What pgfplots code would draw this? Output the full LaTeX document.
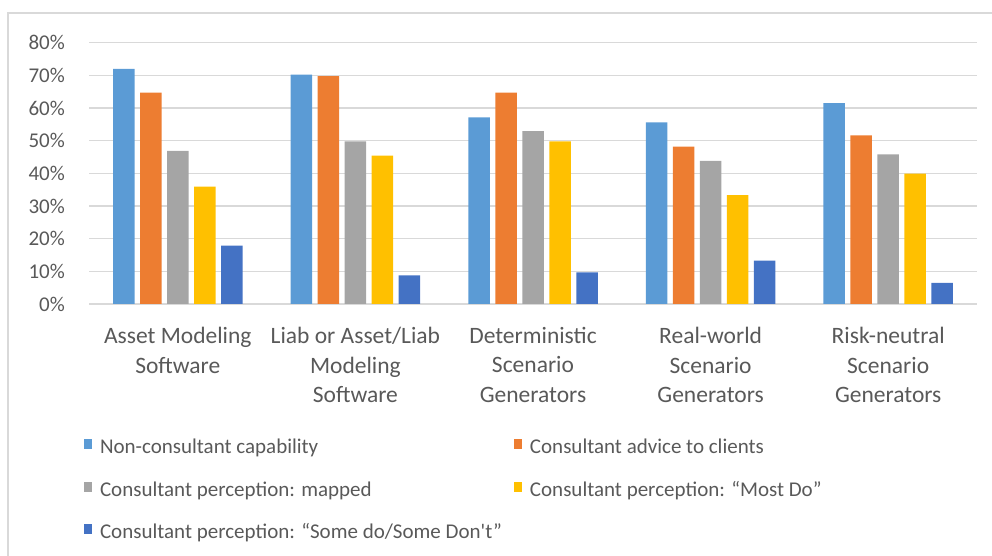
\documentclass[border=0pt]{standalone}
\usepackage{pgfplots}
\pgfplotsset{compat=1.18}
\usepackage{fontspec}
\setmainfont{Carlito}[Ligatures=TeXOff]
\definecolor{c1}{HTML}{5B9BD5}
\definecolor{c2}{HTML}{ED7D31}
\definecolor{c3}{HTML}{A5A5A5}
\definecolor{c4}{HTML}{FFC000}
\definecolor{c5}{HTML}{4472C4}
\definecolor{gridc}{HTML}{D9D9D9}
\definecolor{txt}{HTML}{595959}
\begin{document}
\begin{tikzpicture}
\useasboundingbox (0pt,0pt) rectangle (992pt,556pt);
\draw[gridc, line width=1.5pt] (8pt,-5pt) -- (8pt,543pt) -- (1000pt,543pt);
\begin{axis}[
  at={(89pt,252pt)}, anchor=south west,
  scale only axis, width=888pt, height=261.3pt,
  ybar=5.5pt, bar width=21.5pt,
  ymin=0, ymax=80, xmin=-0.5, xmax=4.5,
  ytick={0,10,...,80},
  yticklabel={\pgfmathprintnumber{\tick}\%},
  /pgf/number format/assume math mode=true,
  ymajorgrids, grid style={gridc, line width=1.4pt},
  axis line style={draw=none},
  axis x line*=bottom, axis y line*=left,
  x axis line style={gridc, line width=1.4pt},
  major tick length=0pt,
  xtick=data,
  xticklabels={{Asset Modeling\\Software},{Liab or Asset/Liab\\Modeling\\Software},{Deterministic\\Scenario\\Generators},{Real-world\\Scenario\\Generators},{Risk-neutral\\Scenario\\Generators}},
  xticklabel style={align=center, font=\fontsize{23.5}{29.5}\selectfont, text=txt, inner sep=0pt, anchor=north, yshift=-23pt},
  yticklabel style={font=\fontsize{21}{25}\selectfont, text=txt, inner sep=0pt, anchor=east, xshift=-24pt},
  legend columns=2,
  legend cell align=left,
  legend style={draw=none, fill=none, inner sep=0pt, outer sep=0pt,
    at={(-0.0056,-0.517)}, anchor=north west,
    font=\fontsize{21}{25}\selectfont, text=txt,
    nodes={inner sep=0pt, text height=14pt, text depth=5pt},
    row sep=23pt,
    /tikz/every odd column/.append style={column sep=8pt},
    /tikz/every even column/.append style={column sep=12pt}},
  legend image code/.code={\path[#1, draw=none] (0pt,0pt) rectangle (8pt,10pt);},
]
\addplot[fill=c1, draw=none] coordinates {(0,72.0) (1,70.2) (2,57.1) (3,55.6) (4,61.5)};
\addplot[fill=c2, draw=none] coordinates {(0,64.7) (1,69.8) (2,64.7) (3,48.2) (4,51.6)};
\addplot[fill=c3, draw=none] coordinates {(0,46.9) (1,49.8) (2,52.9) (3,43.8) (4,45.8)};
\addplot[fill=c4, draw=none] coordinates {(0,35.9) (1,45.4) (2,49.8) (3,33.3) (4,39.9)};
\addplot[fill=c5, draw=none] coordinates {(0,17.9) (1,8.8) (2,9.7) (3,13.3) (4,6.5)};
\legend{Non-consultant capability, Consultant advice to clients, Consultant perception: mapped, Consultant perception: “Most Do”, Consultant perception: “Some do/Some Don't”}
\end{axis}
\end{tikzpicture}
\end{document}
